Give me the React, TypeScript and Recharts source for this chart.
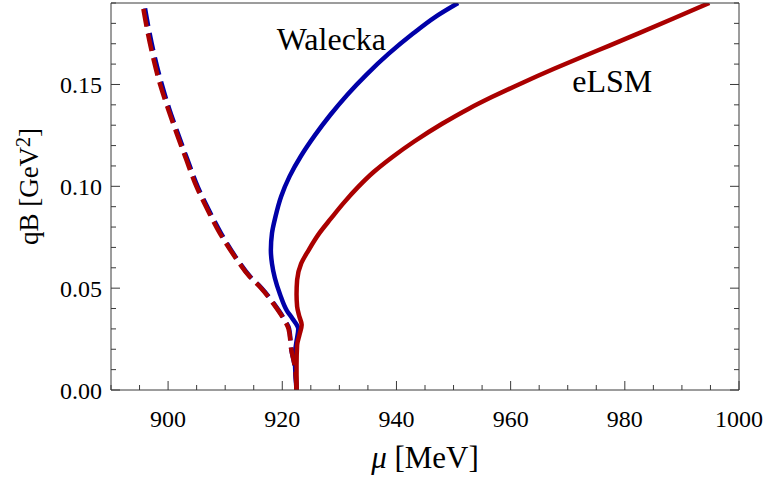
import { LineChart, Line, XAxis, YAxis, ReferenceDot } from "recharts";

// chemical potential mu [MeV] vs magnetic field qB [GeV^2]
const MU_TICKS = [900, 920, 940, 960, 980, 1000];
const MU_MINOR = [890, 895, 900, 905, 910, 915, 920, 925, 930, 935, 940, 945, 950, 955, 960, 965, 970, 975, 980, 985, 990, 995, 1000];
const QB_TICKS = [0, 0.05, 0.1, 0.15];
const QB_MINOR = [0, 0.01, 0.02, 0.03, 0.04, 0.05, 0.06, 0.07, 0.08, 0.09, 0.1, 0.11, 0.12, 0.13, 0.14, 0.15, 0.16, 0.17, 0.18, 0.19];

// [mu, qB]
const waleckaSolid = [
  [922.5, 0], [922.3, 0.008], [922.2, 0.017], [922.5, 0.024], [922.8, 0.03],
  [921.8, 0.035], [920.8, 0.039], [919.6, 0.047], [918.7, 0.055], [918.2, 0.062],
  [918.0, 0.0686], [918.2, 0.077], [918.8, 0.085], [919.8, 0.095], [921.3, 0.105],
  [923.3, 0.115], [925.7, 0.125], [928.4, 0.135], [931.4, 0.145], [934.8, 0.155],
  [938.6, 0.165], [942.9, 0.175], [946.7, 0.183], [950.8, 0.19],
];
const waleckaDashed = [
  [922.5, 0], [922.2, 0.0114], [921.6, 0.0196], [921.2, 0.03], [920.3, 0.035],
  [918.5, 0.0425], [916.4, 0.05], [914.4, 0.0556], [911.9, 0.065], [909.3, 0.0768],
  [907.2, 0.088], [905.2, 0.0997], [903.4, 0.113], [901.7, 0.126], [900.2, 0.138],
  [898.9, 0.15], [897.7, 0.163], [896.7, 0.176], [895.8, 0.19],
];
const elsmSolid = [
  [922.5, 0], [922.5, 0.012], [922.6, 0.022], [923.0, 0.027], [923.4, 0.032],
  [923.0, 0.036], [922.6, 0.041], [922.5, 0.047], [922.6, 0.054], [923.3, 0.062],
  [924.6, 0.0686], [926.5, 0.077], [928.5, 0.0841], [930.8, 0.092], [933.3, 0.0997],
  [936.0, 0.107], [939.3, 0.1144], [943.1, 0.122], [948.0, 0.1307], [952.6, 0.138],
  [956.7, 0.1438], [962.2, 0.151], [967.6, 0.1577], [972.9, 0.164], [977.3, 0.1691],
  [982.3, 0.175], [988.6, 0.1825], [994.8, 0.19],
];
const elsmDashed = [
  [922.5, 0], [922.2, 0.0114], [921.6, 0.0196], [921.1, 0.03], [920.2, 0.035],
  [918.4, 0.0425], [916.3, 0.05], [914.3, 0.0556], [911.8, 0.065], [909.1, 0.0768],
  [907.0, 0.088], [905.0, 0.0997], [903.2, 0.113], [901.5, 0.126], [900.0, 0.138],
  [898.6, 0.15], [897.4, 0.163], [896.4, 0.176], [895.5, 0.19],
];

const toPoints = (pts: number[][]) => pts.map(([mu, qB]) => ({ mu, qB }));

const FONT = '"Liberation Serif", "Times New Roman", serif';
const FRAME = "#3a3a3a";
const BLUE = "#0000a8";
const RED = "#aa0000";
const DOMAIN_MU: [number, number] = [890, 1000];
const DOMAIN_QB: [number, number] = [0, 0.19];

const tickLen = (major: boolean) => (major ? 9 : 5);

function BottomTick(props: any) {
  const { x, y, payload } = props;
  const major = MU_TICKS.includes(payload.value);
  return (
    <g>
      <line x1={x} y1={y} x2={x} y2={y - tickLen(major)} stroke={FRAME} />
      {major && (
        <text x={x} y={y + 20} dy="0.71em" textAnchor="middle" fontSize={24} fontFamily={FONT} fill="#000">
          {payload.value}
        </text>
      )}
    </g>
  );
}

function TopTick(props: any) {
  const { x, y, payload } = props;
  const major = MU_TICKS.includes(payload.value);
  return <line x1={x} y1={y} x2={x} y2={y + tickLen(major)} stroke={FRAME} />;
}

function LeftTick(props: any) {
  const { x, y, payload } = props;
  const major = QB_TICKS.includes(payload.value);
  return (
    <g>
      <line x1={x} y1={y} x2={x + tickLen(major)} y2={y} stroke={FRAME} />
      {major && (
        <text x={x - 9} y={y} dy="0.355em" textAnchor="end" fontSize={24} fontFamily={FONT} fill="#000">
          {payload.value.toFixed(2)}
        </text>
      )}
    </g>
  );
}

function RightTick(props: any) {
  const { x, y, payload } = props;
  const major = QB_TICKS.includes(payload.value);
  return <line x1={x} y1={y} x2={x - tickLen(major)} y2={y} stroke={FRAME} />;
}

const muTitle = (props: any) => {
  const vb = props.viewBox;
  return (
    <text x={vb.x + vb.width / 2} y={vb.y + 78} textAnchor="middle" fontSize={31} fontFamily={FONT} fill="#000">
      <tspan fontStyle="italic">μ</tspan> [MeV]
    </text>
  );
};

const qbTitle = (props: any) => {
  const vb = props.viewBox;
  const cx = vb.x - 3;
  const cy = vb.y + vb.height / 2 - 10;
  return (
    <text x={cx} y={cy} transform={`rotate(-90 ${cx} ${cy})`} textAnchor="middle" fontSize={27} fontFamily={FONT} fill="#000">
      qB [GeV<tspan fontSize={20} dy={-8}>2</tspan>
      <tspan dy={8}>]</tspan>
    </text>
  );
};

const lineStyle = {
  xAxisId: "x",
  yAxisId: "y",
  dataKey: "qB",
  type: "monotoneY" as const,
  strokeWidth: 4.5,
  strokeLinejoin: "round" as const,
  dot: false,
  activeDot: false,
  isAnimationActive: false,
};

export default function App() {
  return (
    <div style={{ position: "absolute", left: 0, top: 0, background: "#fff" }}>
      <LineChart width={766} height={490} margin={{ top: 3, right: 27, bottom: 70, left: 41 }}>
        <XAxis
          xAxisId="x"
          type="number"
          dataKey="mu"
          domain={DOMAIN_MU}
          allowDataOverflow
          ticks={MU_MINOR}
          interval={0}
          height={30}
          tickLine={false}
          tickSize={0}
          tickMargin={0}
          axisLine={{ stroke: FRAME }}
          tick={<BottomTick />}
          label={muTitle}
        />
        <XAxis
          xAxisId="xTop"
          orientation="top"
          mirror
          type="number"
          domain={DOMAIN_MU}
          allowDataOverflow
          ticks={MU_MINOR}
          interval={0}
          height={1}
          tickLine={false}
          tickSize={0}
          tickMargin={0}
          axisLine={{ stroke: FRAME }}
          tick={<TopTick />}
        />
        <YAxis
          yAxisId="y"
          type="number"
          domain={DOMAIN_QB}
          allowDataOverflow
          ticks={QB_MINOR}
          interval={0}
          width={70}
          tickLine={false}
          tickSize={0}
          tickMargin={0}
          axisLine={{ stroke: FRAME }}
          tick={<LeftTick />}
          label={qbTitle}
        />
        <YAxis
          yAxisId="yRight"
          orientation="right"
          mirror
          type="number"
          domain={DOMAIN_QB}
          allowDataOverflow
          ticks={QB_MINOR}
          interval={0}
          width={1}
          tickLine={false}
          tickSize={0}
          tickMargin={0}
          axisLine={{ stroke: FRAME }}
          tick={<RightTick />}
        />
        <Line {...lineStyle} data={toPoints(waleckaDashed)} stroke={BLUE} strokeDasharray="18 7" />
        <Line {...lineStyle} data={toPoints(waleckaSolid)} stroke={BLUE} />
        <Line {...lineStyle} data={toPoints(elsmDashed)} stroke={RED} strokeDasharray="18 7" />
        <Line {...lineStyle} data={toPoints(elsmSolid)} stroke={RED} />
        <ReferenceDot
          xAxisId="x"
          yAxisId="y"
          x={928.6}
          y={0.1725}
          r={0}
          fill="none"
          stroke="none"
          label={{ value: "Walecka", position: "center", fontSize: 32, fontFamily: FONT, fill: "#000" }}
        />
        <ReferenceDot
          xAxisId="x"
          yAxisId="y"
          x={977.8}
          y={0.152}
          r={0}
          fill="none"
          stroke="none"
          label={{ value: "eLSM", position: "center", fontSize: 32, fontFamily: FONT, fill: "#000" }}
        />
      </LineChart>
    </div>
  );
}
